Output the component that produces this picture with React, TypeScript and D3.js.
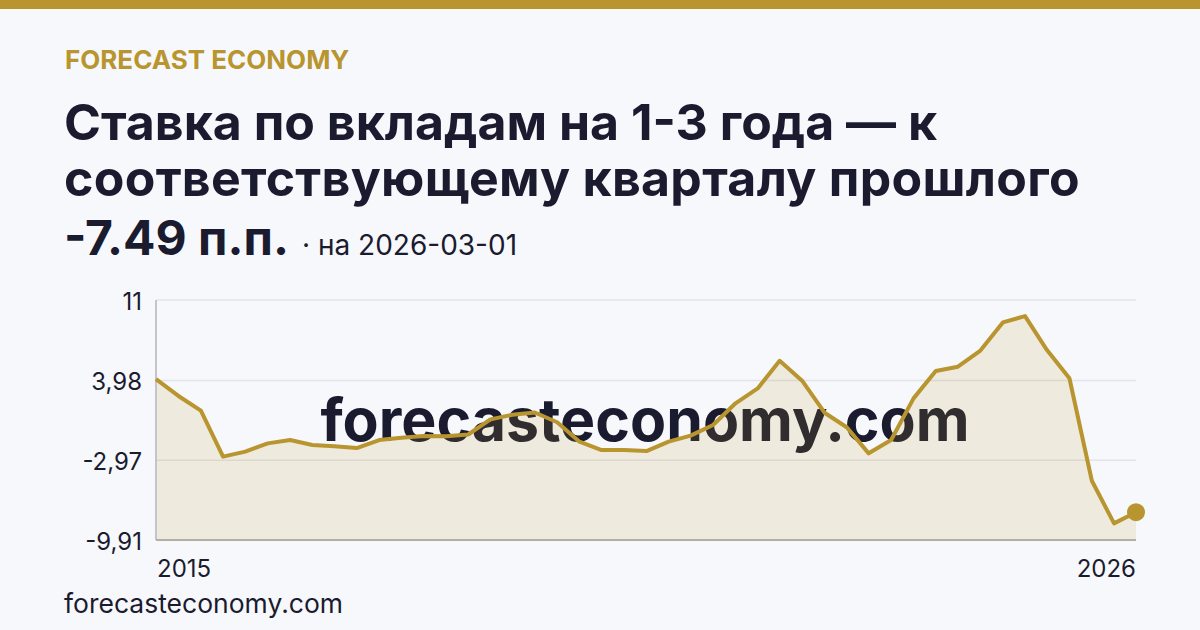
import React from "react";
import * as d3 from "d3";

// quarterly observations, 2015-03-01 .. 2026-03-01
const values = [
  4.1, 2.64, 1.36, -2.65, -2.21, -1.49, -1.2, -1.63, -1.75, -1.9, -1.2, -1.0,
  -0.85, -0.88, -0.72, 0.6, 1.0, 1.2, 0.35, -1.34, -2.07, -2.07, -2.16, -1.34,
  -0.82, 0.11, 2.0, 3.3, 5.7, 3.97, 1.18, -0.09, -2.36, -1.2, 2.43, 4.81, 5.19,
  6.59, 9.05, 9.6, 6.64, 4.18, -4.75, -8.46, -7.49,
];
const dates = d3.timeMonth.range(new Date(2015, 2, 1), new Date(2026, 3, 1), 3);
const yTicks = [11, 3.98, -2.97, -9.91];
const xLabels = ["2015", "2026"];

const titleLines = [
  "Ставка по вкладам на 1-3 года — к",
  "соответствующему кварталу прошлого",
];
const lastValueText = "-7.49 п.п.";
const asOfText = "· на 2026-03-01";

const W = 1200;
const H = 630;
const GOLD = "#b8952e";
const INK = "#1b1b2f";
const FONT = "Inter, 'Noto Sans', sans-serif";

export default function App() {
  const plot = { left: 156, right: 1136, top: 300, bottom: 540 };

  const x = d3
    .scaleTime()
    .domain([dates[0], dates[dates.length - 1]])
    .range([plot.left, plot.right]);
  const y = d3
    .scaleLinear()
    .domain([yTicks[yTicks.length - 1], yTicks[0]])
    .range([plot.bottom, plot.top]);

  const pts = values.map((v, i) => ({ d: dates[i], v }));
  const line = d3
    .line<{ d: Date; v: number }>()
    .x((p) => x(p.d))
    .y((p) => y(p.v));
  const area = d3
    .area<{ d: Date; v: number }>()
    .x((p) => x(p.d))
    .y0(plot.bottom)
    .y1((p) => y(p.v));

  const last = pts[pts.length - 1];
  const fmt = (v: number) => String(v).replace(".", ",");

  return (
    <div style={{ position: "absolute", left: 0, top: 0 }}>
      <svg width={W} height={H} style={{ display: "block", fontFamily: FONT }}>
        <rect width={W} height={H} fill="#f7f8fc" />
        <rect width={W} height={9} fill={GOLD} />

        <text x={65} y={69} fill={GOLD} fontSize={26} fontWeight={700}>
          FORECAST ECONOMY
        </text>

        {titleLines.map((t, i) => (
          <text
            key={i}
            x={64}
            y={140 + i * 56}
            fill={INK}
            fontSize={50}
            fontWeight={700}
            letterSpacing={i === 1 ? 0.3 : 0}
          >
            {t}
          </text>
        ))}
        <text x={64} y={255} fill={INK} fontSize={48} fontWeight={700}>
          {lastValueText}
        </text>
        <text x={302} y={255} fill={INK} fontSize={28}>
          {asOfText}
        </text>

        {/* grid */}
        {yTicks.slice(0, 3).map((t) => (
          <line
            key={t}
            x1={plot.left}
            x2={plot.right}
            y1={y(t)}
            y2={y(t)}
            stroke="#e2e4ea"
            strokeWidth={1.5}
          />
        ))}
        {yTicks.map((t) => (
          <text
            key={"l" + t}
            x={142}
            y={y(t)}
            dy="0.4em"
            textAnchor="end"
            fill={INK}
            fontSize={24}
          >
            {fmt(t)}
          </text>
        ))}

        <text
          x={645}
          y={441}
          textAnchor="middle"
          fill={INK}
          fontSize={59}
          fontWeight={700}
        >
          forecasteconomy.com
        </text>

        <path d={area(pts) || ""} fill={GOLD} fillOpacity={0.14} />
        <line
          x1={plot.left}
          x2={plot.left}
          y1={plot.top}
          y2={plot.bottom}
          stroke="#c3c4cc"
          strokeWidth={2}
        />
        <line
          x1={plot.left}
          x2={plot.right}
          y1={plot.bottom}
          y2={plot.bottom}
          stroke="#b3afa6"
          strokeWidth={2}
        />
        <path
          d={line(pts) || ""}
          fill="none"
          stroke={GOLD}
          strokeWidth={4}
          strokeLinejoin="round"
        />
        <circle cx={x(last.d)} cy={y(last.v)} r={9} fill={GOLD} />

        <text x={plot.left + 1} y={577} fill={INK} fontSize={24}>
          {xLabels[0]}
        </text>
        <text x={plot.right} y={577} textAnchor="end" fill={INK} fontSize={24}>
          {xLabels[1]}
        </text>

        <text x={64} y={613} fill={INK} fontSize={26.5}>
          forecasteconomy.com
        </text>
      </svg>
    </div>
  );
}
